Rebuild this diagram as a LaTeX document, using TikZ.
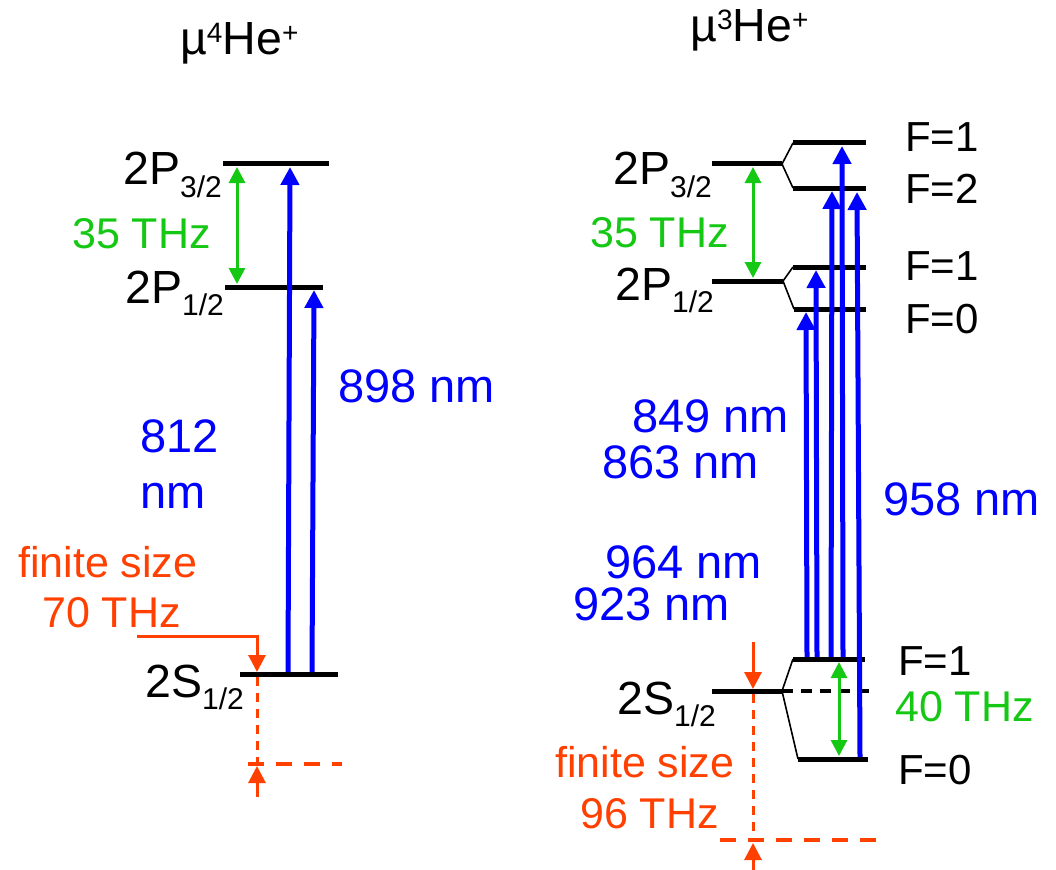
\documentclass[tikz,border=0pt]{standalone}
\usepackage{fontspec}
\setmainfont{Liberation Sans}
\usetikzlibrary{arrows.meta}
\definecolor{blu}{RGB}{0,0,255}
\definecolor{grn}{RGB}{20,200,20}
\definecolor{org}{RGB}{255,64,0}
\newcommand{\lsub}[1]{\raisebox{-12.5pt}{\fontsize{30}{30}\selectfont #1}}
\newcommand{\lsup}[1]{\raisebox{12pt}{\fontsize{28}{28}\selectfont #1}}
\begin{document}
\begin{tikzpicture}[x=1pt,y=-1pt,
  txt/.style={inner sep=0pt, anchor=base west, font=\fontsize{46.5}{50}\selectfont},
  ftxt/.style={inner sep=0pt, anchor=base west, font=\fontsize{42}{46}\selectfont},
  gtxt/.style={inner sep=0pt, anchor=base west, text=grn, font=\fontsize{43}{46}\selectfont},
  otxt/.style={inner sep=0pt, anchor=base west, text=org, font=\fontsize{43}{46}\selectfont},
  btxt/.style={inner sep=0pt, anchor=base west, text=blu, font=\fontsize{47}{50}\selectfont},
  lvl/.style={line width=5pt},
  thin/.style={line width=1.6pt},
  bluarr/.style={draw=blu, line width=5pt, -{Triangle[length=18pt,width=18pt]}},
  grnarr/.style={draw=grn, line width=3pt, {Triangle[length=16pt,width=16pt]}-{Triangle[length=16pt,width=16pt]}},
  orgarr/.style={draw=org, line width=3pt, -{Triangle[length=17pt,width=17pt]}},
  orgdash/.style={draw=org, line width=3pt, dash pattern=on 9pt off 7pt},
  orghdash/.style={draw=org, line width=3.5pt, dash pattern=on 16pt off 12pt},
  blkdash/.style={line width=3.5pt, dash pattern=on 11pt off 8pt}]
\useasboundingbox (0,0) rectangle (1056,869);

%% ---------------- left: mu 4He+ ----------------
\node[txt] (t4) at (180,55) {µ\lsup{4}He\lsup{+}};

\coordinate (a32l) at (223,164); \coordinate (a32r) at (329,164);
\coordinate (a12l) at (225,287); \coordinate (a12r) at (323,287);
\coordinate (aSl) at (240,674);  \coordinate (aSr) at (338,674);
\draw[lvl] (a32l) -- (a32r);
\draw[lvl] (a12l) -- (a12r);
\draw[lvl] (aSl) -- (aSr);

\node[txt] (l32) at (123,185) {2P\lsub{3/2}};
\node[txt] (l12) at (125,303) {2P\lsub{1/2}};
\node[txt] (lS) at (145,697) {2S\lsub{1/2}};
\node[gtxt] (g35l) at (72,248) {35 THz};
\node[btxt] (b812) at (140,452) {812};
\node[btxt] (bnm) at (140,508) {nm};
\node[btxt] (b898) at (338,402) {898 nm};
\node[otxt] (ofl) at (18,577) {finite size};
\node[otxt] (o70) at (42,627) {70 THz};

% green splitting arrow
\coordinate (ga1) at (237,167); \coordinate (ga2) at (237,284);
\draw[grnarr] (ga1) -- (ga2);
% blue transitions
\coordinate (lb1s) at (288,672); \coordinate (lb1e) at (290,167);
\coordinate (lb2s) at (312,672); \coordinate (lb2e) at (314,290);
\draw[bluarr] (lb1s) -- (lb1e);
\draw[bluarr] (lb2s) -- (lb2e);
% finite size
\coordinate (lo0) at (137,636); \coordinate (lo1) at (257,672);
\draw[orgarr] (lo0) -| (lo1);
\coordinate (lv0) at (257,677); \coordinate (lv1) at (257,764);
\draw[orgdash] (lv0) -- (lv1);
\coordinate (lh0) at (248,764); \coordinate (lh1) at (342,764);
\draw[orghdash] (lh0) -- (lh1);
\coordinate (lu0) at (257,797); \coordinate (lu1) at (257,766);
\draw[orgarr] (lu0) -- (lu1);

%% ---------------- right: mu 3He+ ----------------
\node[txt] (t3) at (690,42) {µ\lsup{3}He\lsup{+}};

\coordinate (r32l) at (712,164); \coordinate (r32r) at (782,164);
\coordinate (r21a) at (793,143); \coordinate (r21b) at (866,143);
\coordinate (r22a) at (793,188); \coordinate (r22b) at (866,188);
\coordinate (r12l) at (712,281); \coordinate (r12r) at (783,281);
\coordinate (r11a) at (793,267); \coordinate (r11b) at (866,267);
\coordinate (r10a) at (794,309); \coordinate (r10b) at (866,309);
\coordinate (rSl) at (712,691);  \coordinate (rSr) at (782,691);
\coordinate (rS1a) at (793,659); \coordinate (rS1b) at (865,659);
\coordinate (rS0a) at (798,759); \coordinate (rS0b) at (868,759);
\coordinate (rSd) at (870,691);

\draw[lvl] (r32l) -- (r32r);
\draw[lvl] (r21a) -- (r21b);
\draw[lvl] (r22a) -- (r22b);
\draw[thin] (r21a) -- (r32r) -- (r22a);
\draw[lvl] (r12l) -- (r12r);
\draw[lvl] (r11a) -- (r11b);
\draw[lvl] (r10a) -- (r10b);
\draw[thin] (r11a) -- (r12r) -- (r10a);
\draw[lvl] (rSl) -- (rSr);
\draw[lvl] (rS1a) -- (rS1b);
\draw[lvl] (rS0a) -- (rS0b);
\draw[thin] (rS1a) -- (rSr) -- (rS0a);
\draw[blkdash] (rSr) -- (rSd);

\node[txt] (r32t) at (613,185) {2P\lsub{3/2}};
\node[txt] (r12t) at (615,300) {2P\lsub{1/2}};
\node[txt] (rSt) at (617,714) {2S\lsub{1/2}};
\node[gtxt] (g35r) at (590,247) {35 THz};
\node[ftxt] (f1a) at (905,152) {F=1};
\node[ftxt] (f2) at (905,203) {F=2};
\node[ftxt] (f1b) at (905,280) {F=1};
\node[ftxt] (f0a) at (905,333) {F=0};
\node[ftxt] (f1c) at (898,675) {F=1};
\node[gtxt] (g40) at (895,721) {40 THz};
\node[ftxt] (f0b) at (898,784) {F=0};
\node[btxt] (b849) at (632,432) {849 nm};
\node[btxt] (b863) at (602,478) {863 nm};
\node[btxt] (b964) at (605,578) {964 nm};
\node[btxt] (b923) at (573,620) {923 nm};
\node[btxt] (b958) at (883,515) {958 nm};
\node[otxt] (ofr) at (555,777) {finite size};
\node[otxt] (o96) at (580,828) {96 THz};

% green arrows
\coordinate (gr1) at (753,167); \coordinate (gr2) at (753,278);
\draw[grnarr] (gr1) -- (gr2);
\coordinate (gs1) at (839,662); \coordinate (gs2) at (839,756);
\draw[grnarr] (gs1) -- (gs2);

% blue transitions
\coordinate (rb1s) at (807,657); \coordinate (rb1e) at (806,312);
\coordinate (rb2s) at (817,657); \coordinate (rb2e) at (816,270);
\coordinate (rb3s) at (831,657); \coordinate (rb3e) at (832,191);
\coordinate (rb4s) at (843,657); \coordinate (rb4e) at (842,146);
\coordinate (rb5s) at (860,757); \coordinate (rb5e) at (857,192);
\draw[bluarr] (rb1s) -- (rb1e);
\draw[bluarr] (rb2s) -- (rb2e);
\draw[bluarr] (rb3s) -- (rb3e);
\draw[bluarr] (rb4s) -- (rb4e);
\draw[bluarr] (rb5s) -- (rb5e);

% finite size
\coordinate (ro0) at (753,642); \coordinate (ro1) at (753,689);
\draw[orgarr] (ro0) -- (ro1);
\coordinate (rv0) at (753,694); \coordinate (rv1) at (753,840);
\draw[orgdash] (rv0) -- (rv1);
\coordinate (rh0) at (720,840); \coordinate (rh1) at (878,840);
\draw[orghdash] (rh0) -- (rh1);
\coordinate (ru0) at (753,872); \coordinate (ru1) at (753,843);
\draw[orgarr] (ru0) -- (ru1);
\end{tikzpicture}
\end{document}
